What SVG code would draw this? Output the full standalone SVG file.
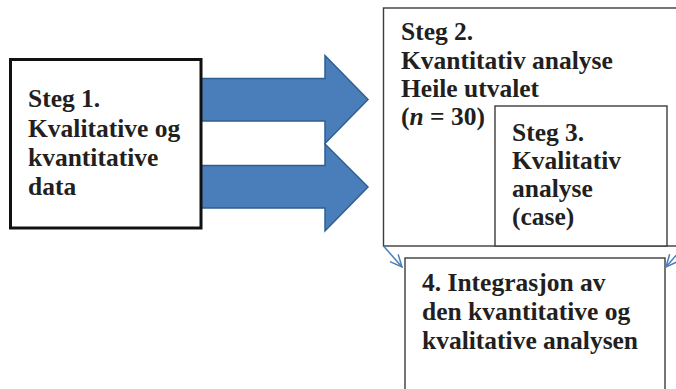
<svg xmlns="http://www.w3.org/2000/svg" width="676" height="389" viewBox="0 0 676 389">
<style>
.t{font-family:"Liberation Serif","Times New Roman",serif;font-weight:bold;font-size:25.5px;fill:#231f20}
.box{fill:#fff;stroke:#3c3c3c;stroke-width:1.4}
.big{fill:#4a7ebb;stroke:#2f5f90;stroke-width:1.5}
.con{fill:none;stroke:#4a7ebb;stroke-width:1.5}
</style>
<defs>
<marker id="open" viewBox="0 0 14 14" refX="13" refY="7" markerWidth="14" markerHeight="14" markerUnits="userSpaceOnUse" orient="auto">
<path d="M1,1.5 L13,7 L1,12.5" fill="none" stroke="#4a7ebb" stroke-width="1.5"/>
</marker>
</defs>
<rect width="676" height="389" fill="#fff"/>
<g id="arrows">
<path class="big" d="M200,78.5 H325 V55.5 L368,99.5 L325,143.5 V121 H200 Z"/>
<path class="big" d="M200,165.5 H325 V144 L368,187 L325,231 V208 H200 Z"/>
</g>
<g id="steg1">
<rect x="10.5" y="59.5" width="190.5" height="168.5" fill="#fff" stroke="#111" stroke-width="3"/>
<text class="t" x="28" y="107">Steg 1.</text>
<text class="t" x="28" y="136.5">Kvalitative og</text>
<text class="t" x="28" y="166">kvantitative</text>
<text class="t" x="28" y="195">data</text>
</g>
<g id="steg2">
<rect class="box" x="383.5" y="8" width="310" height="238"/>
<text class="t" x="401" y="40">Steg 2.</text>
<text class="t" x="401" y="69">Kvantitativ analyse</text>
<text class="t" x="401" y="97">Heile utvalet</text>
<text class="t" x="401" y="125">(<tspan font-style="italic">n</tspan> = 30)</text>
</g>
<g id="steg3">
<rect class="box" x="495" y="106" width="172" height="140"/>
<text class="t" x="512" y="141">Steg 3.</text>
<text class="t" x="512" y="169">Kvalitativ</text>
<text class="t" x="512" y="197">analyse</text>
<text class="t" x="512" y="225">(case)</text>
</g>
<g id="steg4">
<rect class="box" x="405" y="258" width="260" height="150"/>
<text class="t" x="422" y="291">4. Integrasjon av</text>
<text class="t" x="422" y="320">den kvantitative og</text>
<text class="t" x="422" y="349">kvalitative analysen</text>
</g>
<g id="connectors">
<line class="con" x1="383.5" y1="246" x2="402" y2="267" marker-end="url(#open)"/>
<line class="con" x1="684" y1="246" x2="666" y2="267" marker-end="url(#open)"/>
</g>
</svg>
